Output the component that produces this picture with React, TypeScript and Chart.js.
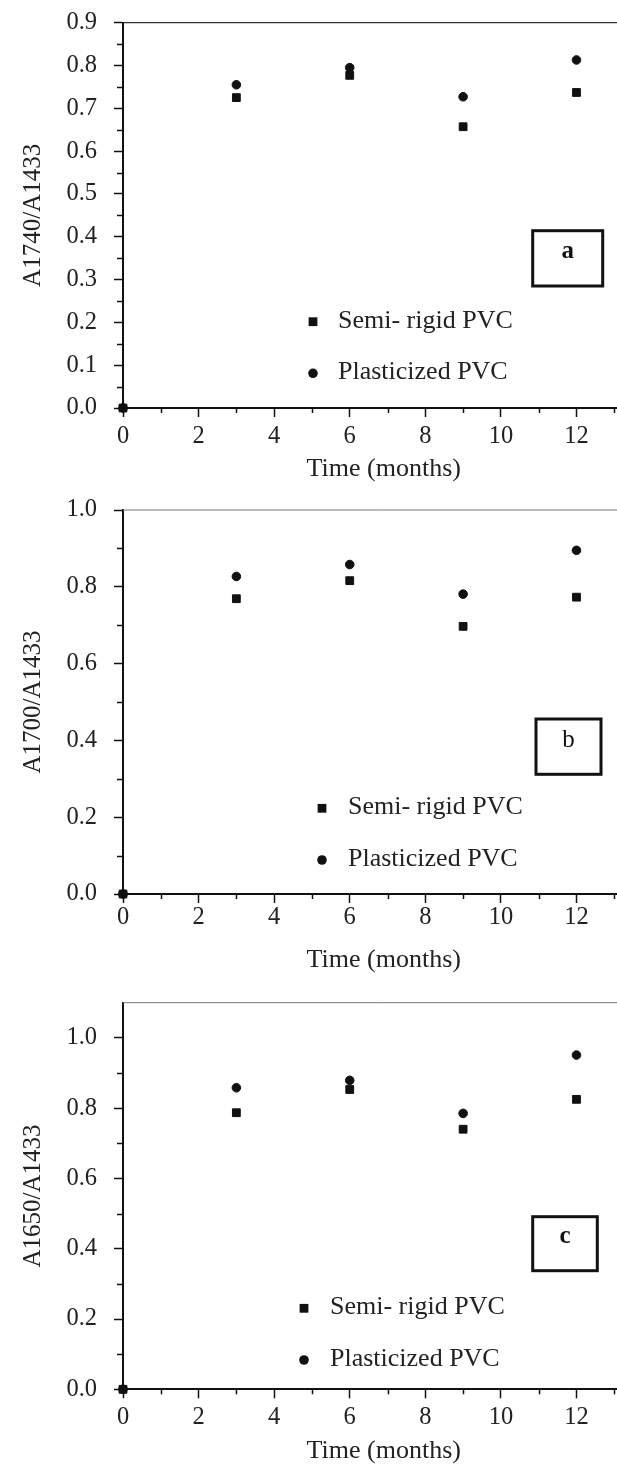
import React, { useEffect, useRef } from 'react';
import { Chart, registerables } from 'chart.js';

Chart.register(...registerables);

// ---------------- data ----------------
const months = [0, 3, 6, 9, 12];
const seriesLabels = ['Semi- rigid PVC', 'Plasticized PVC'];

const semiRigidA = [0, 0.725, 0.777, 0.657, 0.737];
const plasticizedA = [0, 0.755, 0.795, 0.727, 0.813];

const semiRigidB = [0, 0.769, 0.816, 0.697, 0.773];
const plasticizedB = [0, 0.827, 0.858, 0.781, 0.895];

const semiRigidC = [0, 0.787, 0.853, 0.74, 0.825];
const plasticizedC = [0, 0.858, 0.879, 0.785, 0.951];

const xTickLabels = ['0', '2', '4', '6', '8', '10', '12'];
const yTickLabelsA = ['0.0', '0.1', '0.2', '0.3', '0.4', '0.5', '0.6', '0.7', '0.8', '0.9'];
const yTickLabelsBC = ['0.0', '0.2', '0.4', '0.6', '0.8', '1.0'];

const yTitles = ['A1740/A1433', 'A1700/A1433', 'A1650/A1433'];
const panelLetters = ['a', 'b', 'c'];
const xTitle = 'Time (months)';

// ---------------- styling ----------------
const FONT = "'Liberation Serif', 'Times New Roman', Times, serif";
const INK = '#111111';
const TEXT = '#222222';
const X_MAX = 13.8;
const CANVAS_W = 651;
const Y_AXIS_W = 123;

interface Panel {
  semi: number[];
  plast: number[];
  yTitle: string;
  yTicks: string[];
  yMax: number;
  yStep: number;
  top: number;
  height: number;
  padTop: number;
  xAxisH: number;
  xTickPad: number;
  xTitlePad: number;
  topColor: string;
  topWidth: number;
  legend: { markerX: number; textX: number; rows: number[] };
  box: { x: number; y: number; w: number; h: number; letter: string; bold: boolean; baseline: number };
}

const panels: Panel[] = [
  {
    semi: semiRigidA, plast: plasticizedA, yTitle: yTitles[0], yTicks: yTickLabelsA,
    yMax: 0.9, yStep: 0.1, top: 0, height: 490, padTop: 22.7, xAxisH: 82, xTickPad: 5, xTitlePad: 5.5,
    topColor: '#333', topWidth: 1.3,
    legend: { markerX: 190, textX: 215, rows: [299, 350.6] },
    box: { x: 409.7, y: 208, w: 70, h: 55.3, letter: panelLetters[0], bold: true, baseline: 27.6 },
  },
  {
    semi: semiRigidB, plast: plasticizedB, yTitle: yTitles[1], yTicks: yTickLabelsBC,
    yMax: 1.0, yStep: 0.2, top: 490, height: 490, padTop: 20, xAxisH: 86, xTickPad: 0, xTitlePad: 4.5,
    topColor: '#777', topWidth: 1,
    legend: { markerX: 199, textX: 225, rows: [298.3, 350] },
    box: { x: 413, y: 209, w: 65, h: 55.3, letter: panelLetters[1], bold: false, baseline: 27.7 },
  },
  {
    semi: semiRigidC, plast: plasticizedC, yTitle: yTitles[2], yTicks: yTickLabelsBC,
    yMax: 1.1, yStep: 0.2, top: 980, height: 487, padTop: 22.7, xAxisH: 77.7, xTickPad: 5, xTitlePad: 0,
    topColor: '#777', topWidth: 1,
    legend: { markerX: 181, textX: 207, rows: [305.6, 357.3] },
    box: { x: 409.7, y: 214, w: 64.6, h: 54, letter: panelLetters[2], bold: true, baseline: 26.6 },
  },
];

const SQUARE_R = 5.5;
const CIRCLE_R = 4.3;

// ---------------- decoration plugin ----------------
const decorPlugin = {
  id: 'decor',
  afterDraw(chart: any, _args: any, opts: any) {
    const { ctx, chartArea } = chart;
    const xs = chart.scales.x;
    const ys = chart.scales.y;
    ctx.save();

    // top frame line
    ctx.strokeStyle = opts.topColor;
    ctx.lineWidth = opts.topWidth;
    ctx.beginPath();
    ctx.moveTo(chartArea.left, chartArea.top);
    ctx.lineTo(chartArea.right, chartArea.top);
    ctx.stroke();

    // minor ticks
    ctx.strokeStyle = INK;
    ctx.lineWidth = 1.5;
    for (let v = 1; v < X_MAX; v += 2) {
      const px = Math.round(xs.getPixelForValue(v)) + 0.5;
      ctx.beginPath();
      ctx.moveTo(px, chartArea.bottom);
      ctx.lineTo(px, chartArea.bottom + 5);
      ctx.stroke();
    }
    for (let v = opts.yStep / 2; v < opts.yMax - 1e-6; v += opts.yStep) {
      const py = Math.round(ys.getPixelForValue(v)) + 0.5;
      ctx.beginPath();
      ctx.moveTo(chartArea.left - 6, py);
      ctx.lineTo(chartArea.left, py);
      ctx.stroke();
    }

    // legend
    ctx.font = `26px ${FONT}`;
    ctx.textAlign = 'left';
    ctx.textBaseline = 'alphabetic';
    chart.data.datasets.forEach((ds: any, i: number) => {
      const mx = chartArea.left + opts.legend.markerX;
      const my = chartArea.top + opts.legend.rows[i];
      ctx.fillStyle = ds.backgroundColor;
      if (ds.pointStyle === 'rect') {
        const s = ds.pointRadius * Math.SQRT1_2 + 0.5;
        ctx.fillRect(mx - s, my - s, 2 * s, 2 * s);
      } else {
        ctx.beginPath();
        ctx.arc(mx, my, ds.pointRadius + 0.5, 0, Math.PI * 2);
        ctx.fill();
      }
      ctx.fillStyle = TEXT;
      ctx.fillText(ds.label, chartArea.left + opts.legend.textX, my + 6);
    });

    // panel letter box
    const b = opts.box;
    const bx = chartArea.left + b.x;
    const by = chartArea.top + b.y;
    ctx.strokeStyle = INK;
    ctx.lineWidth = 3;
    ctx.strokeRect(bx, by, b.w, b.h);
    ctx.fillStyle = INK;
    ctx.font = `${b.bold ? 'bold ' : ''}25px ${FONT}`;
    ctx.textAlign = 'center';
    ctx.fillText(b.letter, bx + b.w / 2, by + b.baseline);

    ctx.restore();
  },
};

function buildChart(canvas: HTMLCanvasElement, p: Panel) {
  const pts = (vals: number[]) => months.map((m, i) => ({ x: m, y: vals[i] }));
  return new Chart(canvas, {
    type: 'scatter',
    data: {
      datasets: [
        {
          label: seriesLabels[0],
          data: pts(p.semi),
          pointStyle: 'rect',
          pointRadius: SQUARE_R,
          pointHoverRadius: SQUARE_R,
          borderWidth: 1,
          backgroundColor: INK,
          borderColor: INK,
          clip: false,
        },
        {
          label: seriesLabels[1],
          data: pts(p.plast),
          pointStyle: 'circle',
          pointRadius: CIRCLE_R,
          pointHoverRadius: CIRCLE_R,
          borderWidth: 1,
          backgroundColor: INK,
          borderColor: INK,
          clip: false,
        },
      ],
    },
    options: {
      responsive: false,
      animation: false,
      events: [],
      layout: { padding: { top: p.padTop, left: 0, right: 0, bottom: 0 } },
      plugins: {
        legend: { display: false },
        tooltip: { enabled: false },
        decor: {
          topColor: p.topColor,
          topWidth: p.topWidth,
          yStep: p.yStep,
          yMax: p.yMax,
          legend: p.legend,
          box: p.box,
        },
      } as any,
      scales: {
        x: {
          type: 'linear',
          min: 0,
          max: X_MAX,
          afterFit: (s: any) => {
            s.height = p.xAxisH;
            s.paddingLeft = 0;
            s.paddingRight = 0;
          },
          border: { display: true, color: INK, width: 2 },
          grid: { drawOnChartArea: false, drawTicks: true, tickLength: 9, tickColor: INK, tickWidth: 1.5 },
          ticks: {
            stepSize: 2,
            includeBounds: false,
            autoSkip: false,
            maxRotation: 0,
            padding: p.xTickPad,
            color: TEXT,
            font: { family: FONT, size: 24.5 },
            callback: (v: any) => xTickLabels.find((l) => Number(l) === Math.round(Number(v))) ?? '',
          },
          title: {
            display: true,
            text: xTitle,
            color: TEXT,
            font: { family: FONT, size: 26 },
            padding: { top: 0, bottom: p.xTitlePad },
          },
        },
        y: {
          type: 'linear',
          min: 0,
          max: p.yMax,
          afterFit: (s: any) => {
            s.width = Y_AXIS_W;
            s.paddingTop = 0;
            s.paddingBottom = 0;
          },
          border: { display: true, color: INK, width: 2 },
          grid: { drawOnChartArea: false, drawTicks: true, tickLength: 9, tickColor: INK, tickWidth: 1.5 },
          ticks: {
            stepSize: p.yStep,
            includeBounds: false,
            autoSkip: false,
            padding: 17,
            color: TEXT,
            font: { family: FONT, size: 24.5 },
            callback: (v: any) => p.yTicks.find((l) => Math.abs(Number(l) - Number(v)) < 1e-6) ?? '',
          },
          title: {
            display: true,
            text: p.yTitle,
            color: TEXT,
            font: { family: FONT, size: 25 },
            padding: { top: 18, bottom: 0 },
          },
        },
      },
    } as any,
    plugins: [decorPlugin as any],
  });
}

function PanelChart({ p }: { p: Panel }) {
  const ref = useRef<HTMLCanvasElement | null>(null);
  useEffect(() => {
    if (!ref.current) return;
    const chart = buildChart(ref.current, p);
    return () => chart.destroy();
  }, [p]);
  return (
    <canvas
      ref={ref}
      width={CANVAS_W}
      height={p.height}
      style={{ position: 'absolute', left: 0, top: p.top, width: CANVAS_W, height: p.height }}
    />
  );
}

export default function App() {
  useEffect(() => {
    document.body.style.margin = '0';
    document.body.style.background = '#ffffff';
  }, []);
  return (
    <div style={{ position: 'relative', width: 617, height: 1467, overflow: 'hidden', background: '#fff' }}>
      {panels.map((p, i) => (
        <PanelChart key={i} p={p} />
      ))}
    </div>
  );
}
